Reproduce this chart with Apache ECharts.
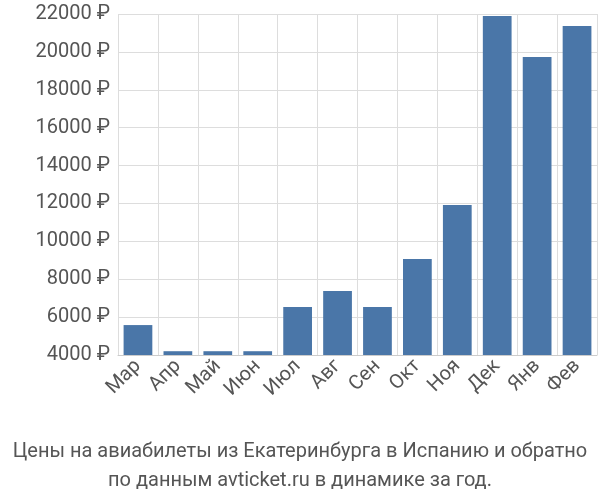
<!DOCTYPE html>
<html><head><meta charset="utf-8">
<script src="https://cdn.jsdelivr.net/npm/echarts@6/dist/echarts.min.js"></script>
<style>html,body{margin:0;padding:0;background:#fff}#c{width:600px;height:500px}</style>
</head><body><div id="c"></div>
<script>
var months = ['Мар', 'Апр', 'Май', 'Июн', 'Июл', 'Авг', 'Сен', 'Окт', 'Ноя', 'Дек', 'Янв', 'Фев'];
var prices = [5580, 4200, 4200, 4200, 6530, 7380, 6530, 9070, 11920, 21900, 19730, 21370];

var chart = echarts.init(document.getElementById('c'));
chart.setOption({
    animation: false,
    textStyle: { fontFamily: 'Roboto' },
    title: {
        text: 'Цены на авиабилеты из Екатеринбурга в Испанию и обратно\nпо данным avticket.ru в динамике за год.',
        left: 'center', top: 432,
        textStyle: { fontSize: 20, fontWeight: 'normal', color: '#555', lineHeight: 29, fontFamily: 'Roboto' }
    },
    grid: { left: 118, right: 3, top: 14, bottom: 145 },
    xAxis: {
        type: 'category', data: months,
        axisLine: { lineStyle: { color: '#ccc' } },
        axisTick: { show: false },
        splitLine: { show: true, lineStyle: { color: '#ddd' } },
        axisLabel: { rotate: 45, fontSize: 20, color: '#555', interval: 0, margin: 8, fontFamily: 'Roboto' }
    },
    yAxis: {
        type: 'value', min: 4000, max: 22000, interval: 2000,
        axisLine: { show: false },
        splitLine: { lineStyle: { color: '#ddd' } },
        axisLabel: { fontSize: 20, color: '#555', fontFamily: 'Roboto', formatter: function (v) { return v + ' ₽'; } }
    },
    series: [{
        type: 'bar', data: prices, barCategoryGap: '28%',
        itemStyle: { color: '#4a76a8' }
    }]
});
</script></body></html>
